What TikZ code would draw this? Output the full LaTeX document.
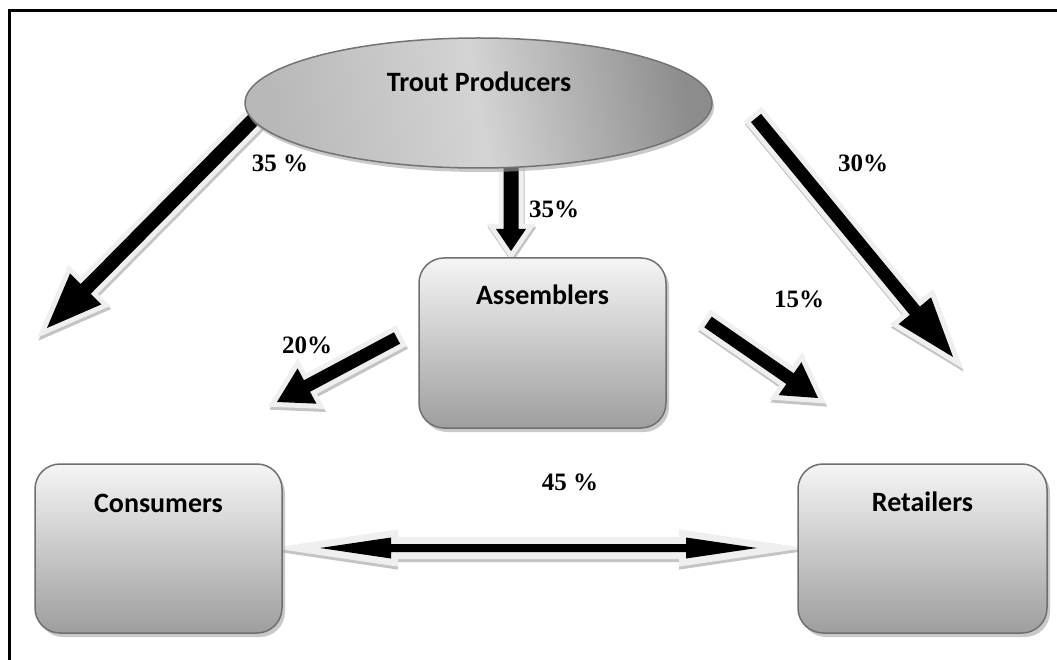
\documentclass[tikz,border=0pt]{standalone}
\usepackage{fontspec}
\setmainfont{Liberation Serif}
\newfontfamily\calib{Carlito}
\usetikzlibrary{calc,shapes.geometric,shadows}
\definecolor{arrlight}{HTML}{EFEFEF}
\definecolor{arrshadow}{HTML}{C4C4C4}
\definecolor{boxedge}{HTML}{6F6F6F}
% #1 tail, #2 tip, #3 shaft half width, #4 head half width, #5 head length, #6 border line width
\newcommand\blockarrow[6]{%
  \coordinate (H) at ($(#2)!#5!(#1)$);
  \coordinate (P1) at ($(#1)!#3!90:(#2)$);
  \coordinate (P7) at ($(#1)!#3!-90:(#2)$);
  \coordinate (P2) at ($(H)!#3!-90:(#1)$);
  \coordinate (P6) at ($(H)!#3!90:(#1)$);
  \coordinate (P3) at ($(H)!#4!-90:(#1)$);
  \coordinate (P5) at ($(H)!#4!90:(#1)$);
  \path[fill=arrshadow, draw=arrshadow, line width=#6, line join=miter]
    ($(P1)+(1,3)$) -- ($(P2)+(1,3)$) -- ($(P3)+(1,3)$) -- ($(#2)+(1,3)$) --
    ($(P5)+(1,3)$) -- ($(P6)+(1,3)$) -- ($(P7)+(1,3)$) -- cycle;
  \path[fill=arrlight, draw=arrlight, line width=#6, line join=miter]
    (P1) -- (P2) -- (P3) -- (#2) -- (P5) -- (P6) -- (P7) -- cycle;
  \path[fill=black] (P1) -- (P2) -- (P3) -- (#2) -- (P5) -- (P6) -- (P7) -- cycle;
}
% double arrow: #1 tip A, #2 tip B, #3 shaft half width, #4 head half width, #5 head length, #6 border
\newcommand\doublearrow[6]{%
  \coordinate (HA) at ($(#1)!#5!(#2)$);
  \coordinate (HB) at ($(#2)!#5!(#1)$);
  \coordinate (Ka) at ($(HA)!#4!90:(#2)$);
  \coordinate (Sa) at ($(HA)!#3!90:(#2)$);
  \coordinate (Sb) at ($(HB)!#3!-90:(#1)$);
  \coordinate (Kb) at ($(HB)!#4!-90:(#1)$);
  \coordinate (Kc) at ($(HB)!#4!90:(#1)$);
  \coordinate (Sc) at ($(HB)!#3!90:(#1)$);
  \coordinate (Sd) at ($(HA)!#3!-90:(#2)$);
  \coordinate (Kd) at ($(HA)!#4!-90:(#2)$);
  \path[fill=arrshadow, draw=arrshadow, line width=#6, line join=miter]
    ($(#1)+(0,3)$) -- ($(Ka)+(0,3)$) -- ($(Sa)+(0,3)$) -- ($(Sb)+(0,3)$) -- ($(Kb)+(0,3)$) -- ($(#2)+(0,3)$) --
    ($(Kc)+(0,3)$) -- ($(Sc)+(0,3)$) -- ($(Sd)+(0,3)$) -- ($(Kd)+(0,3)$) -- cycle;
  \path[fill=arrlight, draw=arrlight, line width=#6, line join=miter]
    (#1) -- (Ka) -- (Sa) -- (Sb) -- (Kb) -- (#2) -- (Kc) -- (Sc) -- (Sd) -- (Kd) -- cycle;
  \path[fill=black]
    (#1) -- (Ka) -- (Sa) -- (Sb) -- (Kb) -- (#2) -- (Kc) -- (Sc) -- (Sd) -- (Kd) -- cycle;
}
\tikzset{
  nodetxt/.style={font=\calib\bfseries\fontsize{28}{32}\selectfont, anchor=base, inner sep=0pt},
  pct/.style={font=\bfseries\fontsize{25}{29}\selectfont, anchor=base, inner sep=0pt},
  box/.style={rounded corners=25pt, draw=boxedge, line width=1.5pt,
    top color=white!96!black, bottom color=black!38,
    drop shadow={shadow xshift=3pt, shadow yshift=-4pt, fill=black!35, opacity=0.6}},
  prodshape/.style={ellipse, draw=black!55, line width=1.5pt,
    left color=black!28, right color=black!45, middle color=black!17, shading angle=100,
    drop shadow={shadow xshift=2pt, shadow yshift=-4pt, fill=black!35, opacity=0.6}},
}
\begin{document}
\begin{tikzpicture}[x=1pt, y=-1pt]
\fill[white] (0,0) rectangle (1057,660);
\useasboundingbox (0,0) rectangle (1057,660);
\draw[line width=3pt] (9.5,660) -- (9.5,11) -- (1057,11);

% arrow end points
\coordinate (a1s) at (255,118);
\coordinate (a1e) at (47,328);
\coordinate (a2s) at (511,160);
\coordinate (a2e) at (511,251);
\coordinate (a3s) at (756,118);
\coordinate (a3e) at (953,357);
\coordinate (a4s) at (397,338);
\coordinate (a4e) at (277,402);
\coordinate (a5s) at (708,322);
\coordinate (a5e) at (818,398);
\coordinate (a6s) at (320,548);
\coordinate (a6e) at (757,548);

\blockarrow{a1s}{a1e}{7pt}{22pt}{55pt}{10pt}
\blockarrow{a2s}{a2e}{7.5pt}{15pt}{22pt}{10pt}
\blockarrow{a3s}{a3e}{6.5pt}{21pt}{60pt}{10pt}
\blockarrow{a4s}{a4e}{6.5pt}{20pt}{34pt}{10pt}
\blockarrow{a5s}{a5e}{6.5pt}{20pt}{34pt}{10pt}
\doublearrow{a6s}{a6e}{4pt}{10.5pt}{71pt}{14pt}

% nodes
\node[prodshape, minimum width=467pt, minimum height=130pt] (prod) at (478.5,103) {};
\node[box, minimum width=247pt, minimum height=170pt] (asm) at (542.5,343) {};
\node[box, minimum width=247pt, minimum height=169pt] (cons) at (158.5,548.5) {};
\node[box, minimum width=249pt, minimum height=169pt] (ret) at (922.5,548.5) {};

\node[nodetxt] (prodt) at (479,92) {Trout Producers};
\node[nodetxt] (asmt) at (542.5,304) {Assemblers};
\node[nodetxt] (const) at (158.5,512) {Consumers};
\node[nodetxt] (rett) at (922.5,511) {Retailers};

% percentages
\node[pct] (p1) at (280,172) {35 \%};
\node[pct] (p2) at (554,218) {35\%};
\node[pct] (p3) at (863,172) {30\%};
\node[pct] (p4) at (799,308) {15\%};
\node[pct] (p5) at (307,353) {20\%};
\node[pct] (p6) at (570,490) {45 \%};
\end{tikzpicture}
\end{document}
